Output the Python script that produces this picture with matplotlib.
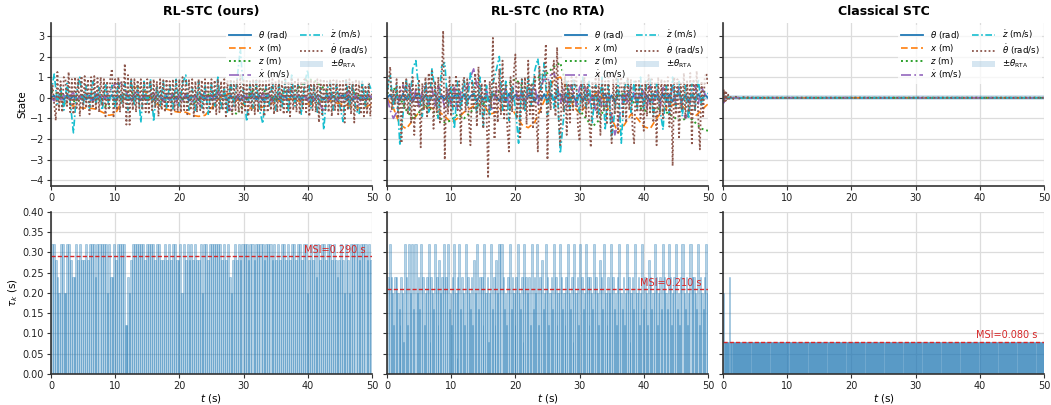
"""
State trajectories and inter-event times for three triggering schemes.

Top row: closed-loop states with the RTA angle band.
Bottom row: inter-event intervals tau_k with the mean sampling interval (MSI).
"""

import matplotlib.pyplot as plt
import numpy as np

# ---------------------------------------------------------------- data
titles = ["RL-STC (ours)", "RL-STC (no RTA)", "Classical STC"]
msi = [0.290, 0.210, 0.080]
theta_rta = 0.13

# RL-STC (ours) -------------------------------------------------------
ours_theta = [
    0.00, 0.10, -0.12, 0.08, -0.10, 0.14, -0.06, 0.10, -0.12, 0.06,
    0.12, -0.08, 0.10, -0.14, 0.06, 0.12, -0.10, 0.08, -0.06, 0.14,
    -0.12, 0.06, 0.10, -0.08, 0.12, -0.10, 0.06, 0.14, -0.12, 0.08,
    -0.06, 0.10, -0.14, 0.12, 0.06, -0.10, 0.08, -0.12, 0.14, -0.06,
    0.10, -0.08, 0.12, -0.14, 0.06, 0.10, -0.12, 0.08, -0.06, 0.12,
    -0.10, 0.14, -0.08, 0.06, 0.12, -0.12, 0.10, -0.06, 0.08, -0.14,
    0.12, -0.10, 0.06, 0.14, -0.08, 0.10, -0.12, 0.06, 0.12, -0.10,
    0.08, -0.14, 0.10, 0.06, -0.12, 0.14, -0.08, 0.10, -0.06, 0.12,
    -0.10, 0.08, -0.14, 0.12, 0.06, -0.10, 0.14, -0.08, 0.10, -0.12,
    0.06, 0.12, -0.10, 0.08, -0.14, 0.10, -0.06, 0.12, -0.08, 0.10,
    0.00,
]
ours_x = [
    0.0, -0.1, -0.25, -0.35, -0.45, -0.5, -0.5, -0.55, -0.7, -0.85,
    -0.8, -0.2, 0.3, 0.5, 0.5, 0.2, -0.2, -0.4, -0.55, -0.65,
    -0.7, -0.7, -0.85, -0.9, -0.85, -0.5, -0.1, 0.15, 0.2, -0.1,
    -0.35, -0.5, -0.5, -0.45, -0.3, -0.2, -0.1, -0.05, -0.1, -0.2,
    -0.3, -0.3, -0.2, -0.1, -0.2, -0.3, -0.35, -0.45, -0.5, -0.45,
    -0.3,
]
ours_z = [
    0.3, 0.2, 0.1, -0.1, -0.2, 0.0, 0.2, 0.1, -0.3, -0.5,
    -0.2, 0.1, 0.3, 0.2, -0.1, 0.0, 0.1, -0.2, -0.1, 0.1,
    0.0, -0.2, -0.3, -0.1, 0.1, 0.2, 0.3, -0.2, -0.6, -0.8,
    -0.3, 0.2, 0.5, 0.4, 0.1, -0.1, 0.2, 0.4, 0.3, 0.6,
    0.9, 0.85, 0.6, 0.3, 0.1, -0.1, 0.2, 0.3, 0.1, -0.2,
    0.0,
]
ours_xdot = [
    0.00, -0.15, 0.20, -0.10, 0.15, -0.20, 0.10, 0.25, -0.15, 0.10,
    -0.20, 0.15, 0.05, -0.25, 0.20, -0.10, 0.15, -0.05, 0.30, 0.45,
    0.70, 0.65, 0.75, 0.40, 0.10, -0.15, 0.20, 0.30, -0.10, 0.15,
    -0.20, 0.10, 0.25, -0.15, 0.05, -0.20, 0.15, -0.10, 0.20, -0.25,
    0.10, -0.15, 0.20, 0.05, -0.20, 0.15, -0.30, 0.10, 0.25, -0.10,
    0.15, -0.20, 0.30, 0.10, -0.15, -0.35, -0.60, -0.40, 0.10, 0.20,
    -0.15, 0.10, -0.25, 0.15, 0.05, -0.20, 0.25, -0.10, 0.15, -0.20,
    0.10, 0.20, -0.15, 0.10, 0.40, 0.35, -0.10, 0.15, -0.20, 0.10,
    -0.15, 0.20, -0.10, 0.15, -0.40, -0.60, -0.30, 0.10, 0.20, -0.15,
    0.10, -0.20, 0.15, 0.30, -0.10, 0.15, -0.35, 0.10, -0.20, 0.15,
    0.00,
]
ours_zdot = [
    0.2, 1.15, -0.3, 0.5, -0.6, 0.7, -0.2, -1.7, 0.3, 1.0,
    -0.4, 0.6, -0.5, 0.8, -0.3, 0.5, -0.6, 0.7, -0.4, 0.6,
    -0.5, 0.8, -0.3, 0.7, -0.6, 0.9, -0.4, 0.6, -1.2, 0.8,
    -0.3, 0.9, -1.15, 0.6, -0.4, 0.8, -0.5, 0.7, -0.6, 0.9,
    -0.4, 0.7, 1.1, -0.6, 0.5, -0.7, 0.8, -0.5, 0.6, -0.8,
    0.7, -0.4, 1.0, -0.6, 0.5, -0.7, 0.8, -0.4, 0.9, 2.4,
    0.2, -1.15, 0.7, -0.5, 0.8, -0.6, -1.25, 0.6, -0.4, 0.8,
    -0.6, 0.7, -0.5, 0.9, -0.7, 1.1, -0.4, 0.6, -0.8, 0.7,
    1.35, -0.5, 0.6, -0.7, 0.5, -1.55, 0.4, 0.8, -0.6, 0.7,
    -0.4, -1.15, 0.9, -0.5, 0.7, -0.6, -0.8, 0.8, -0.4, 0.7,
    0.3,
]
ours_thetadot = [
    0.0, 0.6, -0.3, -1.1, 1.25, -0.6, 0.8, -0.7, 1.0, 0.9,
    -0.4, 1.25, -0.7, 0.9, -0.8, 1.0, -0.5, 0.9, -0.9, 1.05,
    -0.6, 1.05, -0.5, 0.9, -0.8, 1.0, -0.5, 1.05, -0.6, 0.95,
    -0.7, 1.0, -0.4, 0.9, -0.9, 0.8, -0.6, 1.0, 1.4, -0.9,
    0.9, -0.6, 1.0, -0.7, 0.8, -0.5, 1.65, -1.3, 1.1, -1.3,
    0.9, -0.6, 0.9, -0.7, 0.85, -0.5, 0.9, -0.6, 0.8, -0.7,
    0.9, -0.8, 0.85, -0.6, 0.9, -0.5, 0.8, -0.9, 0.9, -0.6,
    0.85, -0.7, 0.9, -0.5, 0.8, -0.8, 0.9, -0.6, 0.85, -0.7,
    0.9, -0.7, 1.0, -0.6, 0.9, -0.8, 0.85, -0.6, 0.9, -0.9,
    0.8, -0.7, 0.9, -0.6, 0.85, -0.8, 0.9, -0.5, 0.8, -0.7,
    0.9, -0.6, 0.85, -0.8, 0.9, -0.7, 0.8, -0.6, 0.9, -0.9,
    0.85, -0.7, 0.9, -0.8, 0.8, -0.6, 0.9, -0.7, 1.1, -0.8,
    0.85, -0.7, 0.9, -0.9, 0.8, -0.6, 0.9, -0.8, 0.85, -0.7,
    0.9, -0.6, 0.8, -0.9, 0.9, -0.7, 0.85, -0.6, 0.9, -0.8,
    0.8, -0.7, 0.9, -0.6, 0.85, -0.8, 0.9, -0.7, 0.8, -0.9,
    0.9, -0.6, 0.85, -0.7, 0.9, -0.8, 0.8, -0.6, 0.9, -0.7,
    0.85, -0.9, 0.9, -0.6, 0.8, -0.7, 0.9, -1.2, 0.85, -0.8,
    0.9, -0.6, 0.8, -0.7, 0.9, -0.9, 0.85, -0.6, 0.9, -0.8,
    0.8, -0.7, 0.9, -1.2, 0.85, -0.6, 0.9, -0.8, 0.8, -1.2,
    0.9, -0.6, 0.85, -0.8, 0.7, -0.9, 0.6, -0.8, 0.7, -0.9,
    0.3,
]
ours_tau = [
    0.32, 0.32, 0.28, 0.24, 0.20, 0.32, 0.32, 0.20, 0.20, 0.32,
    0.32, 0.28, 0.24, 0.24, 0.32, 0.28, 0.32, 0.28, 0.28, 0.32,
    0.28, 0.32, 0.32, 0.32, 0.24, 0.32, 0.32, 0.32, 0.32, 0.32,
    0.20, 0.32, 0.24, 0.24, 0.32, 0.28, 0.32, 0.32, 0.32, 0.32,
    0.12, 0.12, 0.12, 0.24, 0.20, 0.28,
    0.32, 0.32, 0.32, 0.32, 0.32, 0.32, 0.28, 0.32, 0.32, 0.32,
    0.32, 0.28, 0.32, 0.32, 0.28, 0.28, 0.32, 0.28, 0.32, 0.28,
    0.32, 0.32, 0.28, 0.28, 0.32, 0.20, 0.32, 0.28, 0.32, 0.28,
    0.32, 0.28, 0.32, 0.28, 0.28, 0.32, 0.20, 0.32, 0.32, 0.28,
    0.32, 0.32, 0.32, 0.32, 0.32, 0.32, 0.28, 0.32, 0.28, 0.32,
    0.24, 0.20, 0.28, 0.32, 0.28, 0.32, 0.28, 0.32, 0.32, 0.32,
    0.28, 0.32, 0.32, 0.28, 0.32, 0.32, 0.32, 0.32, 0.28, 0.32,
    0.32, 0.32, 0.28, 0.32, 0.28, 0.32, 0.28, 0.32, 0.32, 0.28,
    0.32, 0.28, 0.32, 0.32, 0.28, 0.32, 0.32, 0.28, 0.32, 0.32,
    0.20, 0.28, 0.32, 0.28, 0.32, 0.24, 0.32, 0.28, 0.32, 0.32,
    0.28, 0.32, 0.32, 0.28, 0.32, 0.28, 0.24, 0.28, 0.32, 0.28,
    0.20, 0.32, 0.28, 0.20, 0.32, 0.32, 0.32, 0.32, 0.28, 0.32,
    0.32, 0.32, 0.28, 0.32, 0.28,
]

# RL-STC (no RTA) -----------------------------------------------------
nor_theta = [
    0.00, 0.15, -0.18, 0.10, -0.14, 0.20, -0.08, 0.16, -0.20, 0.10,
    0.18, -0.12, 0.14, -0.20, 0.08, 0.18, -0.15, 0.12, -0.10, 0.20,
    -0.18, 0.10, 0.15, -0.12, 0.18, -0.15, 0.08, 0.20, -0.18, 0.12,
    -0.10, 0.15, -0.20, 0.18, 0.08, -0.15, 0.12, -0.18, 0.20, -0.10,
    0.15, -0.12, 0.18, -0.20, 0.10, 0.15, -0.18, 0.12, -0.10, 0.18,
    -0.15, 0.20, -0.12, 0.08, 0.18, -0.18, 0.15, -0.10, 0.12, -0.20,
    0.18, -0.15, 0.10, 0.20, -0.12, 0.15, -0.18, 0.08, 0.18, -0.15,
    0.12, -0.20, 0.15, 0.10, -0.18, 0.20, -0.12, 0.15, -0.10, 0.18,
    -0.15, 0.12, -0.20, 0.18, 0.08, -0.15, 0.20, -0.12, 0.15, -0.18,
    0.10, 0.18, -0.15, 0.12, -0.20, 0.15, -0.10, 0.18, -0.12, 0.15,
    0.00,
]
nor_x = [
    0.0, -0.5, -1.3, -1.5, -1.1, -0.7, -0.4, -0.5, -0.65, -0.9,
    -1.2, -1.0, -0.7, -0.5, -0.3, -0.3, -0.8, -0.7, -0.4, -0.3,
    -0.8, -1.3, -1.45, -1.2, -0.5, 0.2, 0.9, 1.0, 0.5, -0.4,
    -0.75, -0.4, 0.1, 0.3, -0.2, -1.0, -1.7, -1.3, -0.8, -1.0,
    -1.4, -1.5, -1.0, -0.6, -0.4, -0.3, -0.4, -0.7, -0.9, -0.6,
    -0.3,
]
nor_z = [
    0.2, 0.5, 0.0, -0.6, -1.0, -0.7, -0.4, -0.6, -0.9, -1.2,
    -1.1, -0.8, -1.0, -0.7, -0.4, -0.3, 0.0, 0.2, 0.4, 0.7,
    0.9, 0.6, 0.4, 0.8, 1.1, 1.2, 1.5, 1.7, 0.5, -0.2,
    -0.6, -1.0, -1.4, -1.1, -0.4, 0.0, 0.1, 0.2, -0.1, -0.4,
    -0.6, -0.7, -0.5, -0.6, -0.8, -1.0, -1.1, -0.9, -1.2, -1.5,
    -1.6,
]
nor_xdot = [
    0.0, -0.6, -1.0, -0.7, 0.2, 0.6, 0.3, 0.65, -0.2, 0.4,
    -0.5, 0.3, 0.7, -0.3, 0.5, -0.4, 0.6, 0.2, -0.5, 0.4,
    -0.3, 0.5, -0.6, 0.3, 0.6, 0.4, 1.0, 1.4, 0.6, 0.4,
    0.2, 0.4, -0.6, -0.5, 0.3, 0.6, -0.2, 0.5, -0.4, 0.3,
    0.6, -0.3, 0.4, -0.5, 0.5, 0.2, 0.7, -0.4, 0.6, 0.9,
    0.8, 1.1, 1.2, 0.7, -0.3, 0.4, -0.5, 0.6, 0.3, -0.4,
    0.5, 0.8, 0.4, -0.3, 0.2, -0.6, 0.4, -0.5, -0.6, 0.3,
    -0.9, -1.8, -1.2, -0.5, 0.4, -0.3, 0.6, 0.2, -0.4, 0.5,
    0.3, -0.5, 0.6, -0.2, 0.4, -0.6, 0.5, 0.3, -0.4, 0.6,
    -0.3, 0.5, -0.6, -1.0, -0.7, 0.4, 0.6, -0.3, 0.5, 0.2,
    0.0,
]
nor_zdot = [
    0.3, 1.1, -0.5, 0.6, -2.3, -0.8, 0.9, -0.6, 1.4, 1.8,
    0.2, -0.9, 0.8, -0.7, 1.4, 0.3, -1.0, 1.5, 1.7, -0.5,
    0.6, -1.5, 0.8, -0.6, 0.9, -0.4, 1.2, 0.5, -0.8, 1.0,
    -1.4, 0.6, -0.9, 0.7, 1.3, 2.0, -0.6, 0.8, -1.1, 0.6,
    -0.5, -2.2, 0.9, -0.7, 1.0, -0.4, 1.3, 1.9, 0.4, 1.7,
    -0.8, 0.9, -0.5, 0.6, -2.7, -1.0, 0.8, -0.6, 0.9, 0.4,
    -0.7, 1.0, -0.5, 0.8, -1.2, 0.6, -0.8, 1.0, -1.5, 0.7,
    -2.0, -0.6, 0.9, -2.2, 0.5, 0.9, -0.7, 0.8, -0.5, 1.0,
    -0.6, 0.8, 0.9, -0.9, 0.7, -0.5, -1.55, 0.6, -0.8, 1.0,
    -0.4, 0.8, -0.9, 0.6, -1.0, 0.7, -0.6, 0.9, -0.4, 0.3,
    0.2,
]
nor_thetadot = [
    0.0, 0.8, 1.5, -0.6, 0.4, -0.3, 0.9, -1.0, 0.6, -2.2,
    0.8, -0.5, 0.9, -0.8, 0.7, -1.2, 1.0, -1.8, 0.6, -0.4,
    0.9, -2.4, 0.7, -0.6, 1.0, -0.9, 1.2, -0.5, 1.3, -1.5,
    0.8, -0.7, 1.0, -1.2, 0.6, 3.25, -3.0, 0.5, -0.8, 1.0,
    -0.9, 0.7, -0.5, 1.1, -0.6, 0.8, -2.2, 0.6, 1.0, -0.7,
    0.9, -1.0, -2.3, 0.8, -0.5, 1.2, -1.4, 1.5, -0.8, 0.7,
    -1.5, 0.9, -0.6, -3.9, 0.8, -0.5, 2.9, -2.0, 0.7, -1.2,
    1.4, -0.8, 1.8, -1.0, 0.6, -1.5, -2.6, 1.0, -0.7, 1.2,
    2.1, -1.0, 0.8, -2.0, 0.9, -0.6, 1.0, -1.3, 1.8, -0.8,
    0.7, -1.5, 1.1, -0.9, -2.6, 1.5, -0.7, 0.9, 1.2, 2.6,
    -3.0, 0.8, -0.6, 1.2, 1.8, -0.9, 2.45, -1.0, -2.3, 0.9,
    -0.7, 1.0, -1.8, 0.8, -1.2, 1.0, -0.6, 0.9, 1.0, -1.4,
    -2.1, 0.8, -0.6, 1.0, -0.9, 0.7, -1.2, -2.4, 0.8, -0.5,
    1.0, -1.0, 1.1, -1.8, 0.9, -0.6, 0.8, -1.3, 1.0, -0.7,
    -2.2, 0.9, -0.8, 1.0, -1.7, 0.7, 1.0, -0.9, 0.8, -1.2,
    1.0, -0.6, 0.9, -1.5, -2.2, 0.8, -0.7, 0.9, -1.0, 0.6,
    -1.6, 0.8, -0.9, 1.1, -0.7, 0.9, -1.2, 0.7, -2.3, 1.0,
    -0.8, 0.9, -1.0, 0.8, -0.6, 1.0, -1.4, 0.7, -3.3, 1.0,
    -0.8, 0.9, -2.0, 0.7, -0.6, 1.2, -1.0, 0.8, -0.7, 1.2,
    -2.3, 0.9, -0.6, 1.3, -1.0, -2.5, 0.8, -0.9, 1.0, 1.2,
    0.6,
]
nor_tau = [
    0.24, 0.32, 0.24, 0.20, 0.12, 0.24, 0.24, 0.20, 0.16, 0.12,
    0.24, 0.20, 0.08, 0.32, 0.24, 0.12, 0.32, 0.20, 0.32, 0.16,
    0.32, 0.20, 0.24, 0.16, 0.32, 0.24, 0.12, 0.20, 0.24, 0.32,
    0.08, 0.24, 0.20, 0.16, 0.32, 0.24, 0.12, 0.28, 0.20, 0.24,
    0.32, 0.24, 0.32, 0.16, 0.20, 0.12, 0.24, 0.32, 0.20, 0.04,
    0.24, 0.32, 0.16, 0.24, 0.20, 0.12, 0.32, 0.24, 0.20, 0.16,
    0.24, 0.12, 0.28, 0.20, 0.32, 0.16, 0.24, 0.24, 0.12, 0.32,
    0.20, 0.24, 0.08, 0.20, 0.32, 0.16, 0.24, 0.12, 0.28, 0.20,
    0.32, 0.32, 0.24, 0.16, 0.20, 0.12, 0.24, 0.32, 0.16, 0.24,
    0.20, 0.12, 0.24, 0.32, 0.20, 0.16, 0.24, 0.08, 0.32, 0.24,
    0.20, 0.24, 0.12, 0.32, 0.16, 0.24, 0.20, 0.32, 0.12, 0.24,
    0.28, 0.16, 0.20, 0.32, 0.24, 0.12, 0.20, 0.24, 0.16, 0.32,
    0.24, 0.12, 0.20, 0.32, 0.24, 0.16, 0.20, 0.12, 0.24, 0.32,
    0.20, 0.16, 0.24, 0.08, 0.32, 0.20, 0.24, 0.12, 0.32, 0.24,
    0.16, 0.20, 0.32, 0.24, 0.12, 0.24, 0.20, 0.16, 0.32, 0.24,
    0.20, 0.12, 0.28, 0.24, 0.16, 0.32, 0.20, 0.12, 0.24, 0.20,
    0.32, 0.24, 0.16, 0.20, 0.12, 0.24, 0.32, 0.20, 0.16, 0.24,
    0.12, 0.20, 0.32, 0.24, 0.08, 0.20, 0.24, 0.16, 0.32, 0.20,
    0.24, 0.12, 0.20, 0.32, 0.16, 0.24, 0.20, 0.12, 0.28, 0.24,
    0.16, 0.20, 0.32, 0.24, 0.12, 0.20, 0.24, 0.16, 0.32, 0.24,
    0.20, 0.16, 0.32, 0.24, 0.12, 0.20, 0.24, 0.32, 0.16, 0.20,
    0.12, 0.24, 0.32, 0.20, 0.16, 0.24, 0.12, 0.20, 0.32, 0.24,
    0.24, 0.20, 0.16, 0.32, 0.12, 0.24, 0.20, 0.16, 0.24, 0.32,
    0.20, 0.12, 0.24, 0.28, 0.16, 0.20, 0.24, 0.12, 0.32, 0.24,
    0.24, 0.24, 0.20, 0.16, 0.32, 0.24, 0.12, 0.20, 0.24, 0.32,
]

# Classical STC: short transient, then the states sit at zero ----------
cls_t = [0.0, 0.1, 0.2, 0.3, 0.4, 0.5, 0.6, 0.8, 1.0, 1.3, 1.6, 2.0, 2.5, 3.0, 4.0, 5.0, 50.0]
cls_theta = [0.0, 0.05, -0.03, 0.03, -0.02, 0.02, -0.01, 0.01, 0.0, 0.0, 0.0, 0.0, 0.0, 0.0, 0.0, 0.0, 0.0]
cls_x = [0.0, 0.02, 0.03, 0.03, 0.02, 0.02, 0.01, 0.01, 0.01, 0.0, 0.0, 0.0, 0.0, 0.0, 0.0, 0.0, 0.0]
cls_z = [0.05, 0.04, 0.03, 0.02, 0.02, 0.01, 0.01, 0.0, 0.0, 0.0, 0.0, 0.0, 0.0, 0.0, 0.0, 0.0, 0.0]
cls_xdot = [0.0, -0.25, -0.10, -0.05, 0.03, -0.02, 0.02, -0.01, 0.0, 0.0, 0.0, 0.0, 0.0, 0.0, 0.0, 0.0, 0.0]
cls_zdot = [0.1, -0.05, 0.08, -0.04, 0.05, -0.03, 0.03, -0.02, 0.02, -0.01, 0.0, 0.0, 0.0, 0.0, 0.0, 0.0, 0.0]
cls_thetadot = [0.0, 0.40, -0.20, 0.35, -0.15, 0.25, -0.10, 0.15, -0.10, 0.08, -0.06, 0.05, -0.04, 0.03, 0.01, 0.0, 0.0]
cls_tau = [0.20] + [0.08] * 9 + [0.24] + [0.08] * 611

# ---------------------------------------------------------------- style
LINE_STYLES = [
    (r"$\theta$ (rad)", "#1f77b4", "-", 1.3),
    (r"$x$ (m)", "#ff7f0e", (0, (4, 2)), 1.2),
    (r"$z$ (m)", "#2ca02c", (0, (1, 1.5)), 1.4),
    (r"$\dot{x}$ (m/s)", "#9467bd", (0, (6, 2, 1, 2)), 1.2),
    (r"$\dot{z}$ (m/s)", "#17becf", (0, (4, 1.5, 1, 1.5)), 1.2),
    (r"$\dot{\theta}$ (rad/s)", "#8c564b", (0, (1, 1.3)), 1.3),
]


def style_axes(ax):
    ax.grid(True, color="#dcdcdc", linewidth=0.9)
    ax.set_axisbelow(True)
    for side in ("top", "right"):
        ax.spines[side].set_visible(False)
    for side in ("left", "bottom"):
        ax.spines[side].set_color("#333333")
        ax.spines[side].set_linewidth(1.2)
    ax.tick_params(labelsize=7, length=3, width=0.8, pad=2,
                   colors="#333333", labelcolor="#222222")
    ax.set_xlim(0, 50)
    ax.set_xticks([0, 10, 20, 30, 40, 50])


def plot_states(ax, t_series, states, title):
    ax.axhspan(-theta_rta, theta_rta, color="#1f77b4", alpha=0.18, linewidth=0,
               label=r"$\pm\theta_{\mathrm{RTA}}$")
    for (label, color, ls, lw), values in zip(LINE_STYLES, states):
        t = t_series if t_series is not None else np.linspace(0, 50, len(values))
        ax.plot(t, values, color=color, linestyle=ls, linewidth=lw, label=label)
    ax.set_title(title, fontsize=9, fontweight="bold", pad=6)
    ax.set_ylim(-4.26, 3.61)
    ax.set_yticks(range(-4, 4))
    handles, labels = ax.get_legend_handles_labels()
    handles = handles[1:] + handles[:1]
    labels = labels[1:] + labels[:1]
    leg = ax.legend(handles, labels, loc="upper right", ncol=2, fontsize=6.2,
                    framealpha=0.75, edgecolor="none", handlelength=2.6,
                    labelspacing=0.12, columnspacing=1.2, borderaxespad=0.25,
                    borderpad=0.3, handleheight=0.6)
    leg.get_frame().set_linewidth(0)


def plot_intervals(ax, tau, msi_value):
    tau = np.asarray(tau)
    starts = np.concatenate([[0.0], np.cumsum(tau)[:-1]])
    ax.bar(starts, tau, width=tau, align="edge", color="#1f77b4", alpha=0.33,
           edgecolor="#1f77b4", linewidth=0.6)
    ax.axhline(msi_value, color="#d62728", linestyle=(0, (3, 1.5)), linewidth=1.0)
    ax.text(49, msi_value + 0.003, f"MSI={msi_value:.3f} s", color="#d62728",
            fontsize=7, ha="right", va="bottom")
    ax.set_ylim(0, 0.40)
    ax.set_yticks(np.arange(0, 0.41, 0.05))
    ax.yaxis.set_major_formatter(plt.FormatStrFormatter("%.2f"))
    ax.set_xlabel(r"$t$ (s)", fontsize=7.5, labelpad=0.5)


fig = plt.figure(figsize=(10.51, 4.05), dpi=100)
axes = fig.subplots(2, 3, sharey="row")
fig.subplots_adjust(left=0.0485, right=0.9933, bottom=0.0765, top=0.9425,
                    wspace=0.047, hspace=0.16)

state_sets = [
    (None, [ours_theta, ours_x, ours_z, ours_xdot, ours_zdot, ours_thetadot]),
    (None, [nor_theta, nor_x, nor_z, nor_xdot, nor_zdot, nor_thetadot]),
    (cls_t, [cls_theta, cls_x, cls_z, cls_xdot, cls_zdot, cls_thetadot]),
]
tau_sets = [ours_tau, nor_tau, cls_tau]

for col in range(3):
    style_axes(axes[0, col])
    style_axes(axes[1, col])
    plot_states(axes[0, col], state_sets[col][0], state_sets[col][1], titles[col])
    plot_intervals(axes[1, col], tau_sets[col], msi[col])

axes[0, 0].set_ylabel("State", fontsize=7.5, labelpad=2)
axes[1, 0].set_ylabel(r"$\tau_k$ (s)", fontsize=7.5, labelpad=2)

fig.savefig("out.png", dpi=100)
plt.close(fig)
